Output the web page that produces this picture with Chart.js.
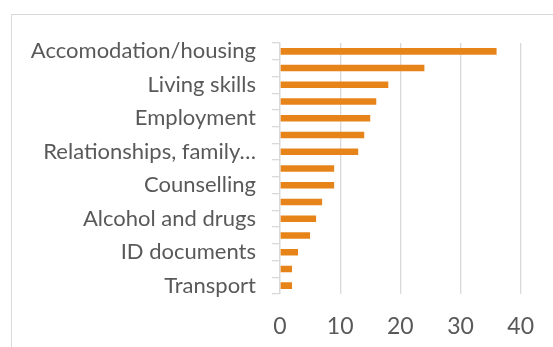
<!DOCTYPE html>
<html>
<head>
<meta charset="utf-8">
<script src="https://cdn.jsdelivr.net/npm/chart.js@4/dist/chart.umd.min.js"></script>
<style>
  html, body { margin: 0; padding: 0; background: #fff; }
  #wrap { position: relative; width: 553px; height: 347px; overflow: hidden; }
  #frame { position: absolute; left: 11px; top: 14px; width: 600px; height: 400px; border: 1.5px solid #d9d9d9; box-sizing: border-box; }
  canvas { position: absolute; left: 0; top: 0; }
</style>
</head>
<body>
<div id="wrap">
  <div id="frame"></div>
  <canvas id="c" width="553" height="347"></canvas>
</div>
<script>
const categories = [
  'Accomodation/housing', '', 'Living skills', '', 'Employment', '',
  'Relationships, family…', '', 'Counselling', '', 'Alcohol and drugs', '',
  'ID documents', '', 'Transport'
];
const values = [36, 24, 18, 16, 15, 14, 13, 9, 9, 7, 6, 5, 3, 2, 2];
const xTicks = [0, 10, 20, 30, 40];

const FONT = 'Lato';
const TEXT = '#595959';
const GRID = '#d9d9d9';

new Chart(document.getElementById('c'), {
  type: 'bar',
  data: {
    labels: categories,
    datasets: [{
      data: values,
      backgroundColor: '#E6841A',
      borderWidth: 0,
      categoryPercentage: 1,
      barPercentage: 0.39
    }]
  },
  options: {
    indexAxis: 'y',
    responsive: false,
    animation: false,
    layout: { padding: { left: 0, right: 28, top: 43, bottom: 0 } },
    plugins: { legend: { display: false }, tooltip: { enabled: false } },
    scales: {
      x: {
        min: xTicks[0],
        max: xTicks[xTicks.length - 1],
        afterBuildTicks: s => { s.ticks = xTicks.map(v => ({ value: v })); },
        afterFit: s => { s.height = 53; },
        border: { display: false },
        grid: { color: GRID, lineWidth: 1.3, tickLength: 0, drawTicks: false },
        ticks: { color: TEXT, font: { family: FONT, size: 23 }, padding: 19 }
      },
      y: {
        afterFit: s => { s.width = 280; },
        border: { display: true, color: GRID, width: 1.3 },
        grid: { offset: true, drawOnChartArea: false, color: GRID, lineWidth: 1.3, tickLength: 8 },
        ticks: { autoSkip: false, color: TEXT, font: { family: FONT, size: 22 }, padding: 16 }
      }
    }
  }
});
</script>
</body>
</html>
